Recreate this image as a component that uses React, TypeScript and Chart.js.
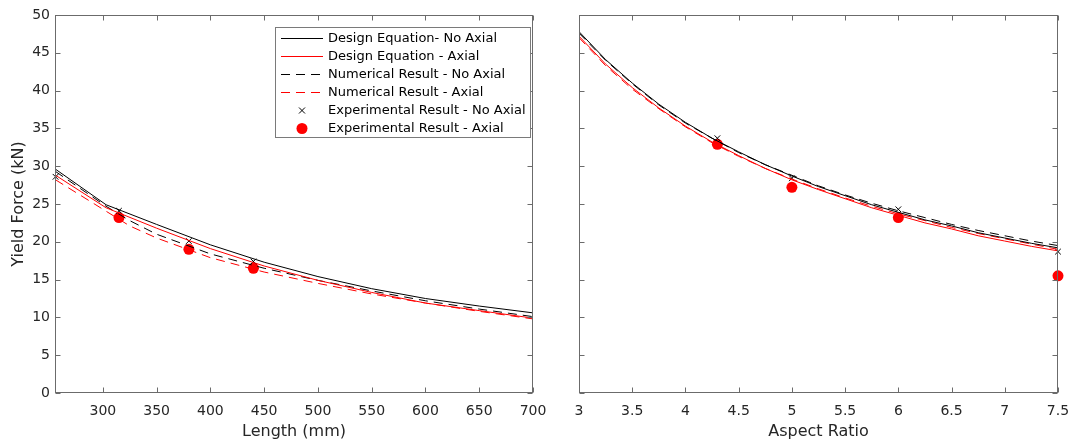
import React, { useEffect, useRef } from "react";
import { Chart, registerables } from "chart.js";
Chart.register(...registerables);

const FONT = "'DejaVu Sans', Verdana, sans-serif";
const AXIS_COLOR = "#6b6b6b";
const TEXT_COLOR = "#262626";

const seriesLabels = [
  "Design Equation- No Axial",
  "Design Equation - Axial",
  "Numerical Result - No Axial",
  "Numerical Result - Axial",
  "Experimental Result - No Axial",
  "Experimental Result - Axial",
];

// ---------- Left panel: Length (mm) ----------
const lengthTicks = [300, 350, 400, 450, 500, 550, 600, 650, 700];
const forceTicks = [0, 5, 10, 15, 20, 25, 30, 35, 40, 45, 50];

const lengthDesign = [256, 303, 350, 400, 450, 500, 550, 600, 650, 700];
const designNoAxialByLength = [29.6, 24.9, 22.3, 19.6, 17.3, 15.4, 13.8, 12.5, 11.5, 10.6];
const designAxialByLength = [28.8, 24.5, 21.8, 19.1, 16.8, 14.9, 13.3, 11.9, 10.9, 9.9];
const lengthNumNoAxial = [256, 303, 325, 350, 400, 450, 500, 550, 600, 650, 700];
const numNoAxialByLength = [29.3, 24.7, 22.8, 21.0, 18.4, 16.5, 14.9, 13.5, 12.2, 11.1, 10.1];
const lengthNumAxial = [256, 325, 350, 400, 450, 500, 550, 600, 650, 700];
const numAxialByLength = [28.2, 22.1, 20.5, 17.9, 16.0, 14.5, 13.1, 11.9, 10.8, 9.8];
const lengthExpNoAxial = [256, 315, 380, 440];
const expNoAxialByLength = [28.6, 24.1, 20.1, 17.4];
const lengthExpAxial = [315, 380, 440];
const expAxialByLength = [23.2, 19.0, 16.5];

// ---------- Right panel: Aspect Ratio ----------
const aspectTicks = [3, 3.5, 4, 4.5, 5, 5.5, 6, 6.5, 7, 7.5];
const aspectLine = [3, 3.25, 3.5, 3.75, 4, 4.25, 4.5, 4.75, 5, 5.25, 5.5, 5.75, 6, 6.25, 6.5, 6.75, 7, 7.25, 7.5];
const designNoAxialByAspect = [47.8, 44.1, 41.0, 38.2, 35.8, 33.7, 31.9, 30.2, 28.7, 27.3, 26.1, 24.9, 23.9, 22.9, 22.1, 21.2, 20.5, 19.8, 19.2];
const designAxialByAspect = [47.2, 43.5, 40.4, 37.7, 35.3, 33.2, 31.4, 29.7, 28.2, 26.9, 25.7, 24.5, 23.5, 22.5, 21.7, 20.8, 20.1, 19.4, 18.8];
const numNoAxialByAspect = [47.6, 44.0, 40.9, 38.1, 35.7, 33.7, 31.8, 30.2, 28.8, 27.4, 26.2, 25.1, 24.1, 23.2, 22.3, 21.5, 20.8, 20.1, 19.5];
const numAxialByAspect = [47.0, 43.3, 40.2, 37.6, 35.2, 33.1, 31.3, 29.7, 28.3, 27.0, 25.8, 24.7, 23.7, 22.8, 21.9, 21.1, 20.4, 19.7, 19.0];
const aspectExp = [4.3, 5, 6, 7.5];
const expNoAxialByAspect = [33.7, 28.4, 24.3, 18.7];
const expAxialByAspect = [32.9, 27.2, 23.2, 15.5];

const zip = (xs: number[], ys: number[]) => xs.map((x, i) => ({ x, y: ys[i] }));

const DASH = [9, 6];

function makeDatasets(
  d1: [number[], number[]],
  d2: [number[], number[]],
  d3: [number[], number[]],
  d4: [number[], number[]],
  e1: [number[], number[]],
  e2: [number[], number[]]
) {
  const lineBase = { pointRadius: 0, borderWidth: 1, tension: 0, fill: false };
  return [
    { ...lineBase, label: seriesLabels[0], data: zip(d1[0], d1[1]), borderColor: "#000000", borderDash: [] },
    { ...lineBase, label: seriesLabels[1], data: zip(d2[0], d2[1]), borderColor: "#ff0000", borderDash: [] },
    { ...lineBase, label: seriesLabels[2], data: zip(d3[0], d3[1]), borderColor: "#000000", borderDash: DASH },
    { ...lineBase, label: seriesLabels[3], data: zip(d4[0], d4[1]), borderColor: "#ff0000", borderDash: DASH },
    {
      label: seriesLabels[4], data: zip(e1[0], e1[1]), showLine: false, pointStyle: "crossRot",
      pointRadius: 4, borderWidth: 1, borderColor: "#000000", backgroundColor: "#000000", clip: false,
    },
    {
      label: seriesLabels[5], data: zip(e2[0], e2[1]), showLine: false, pointStyle: "circle",
      pointRadius: 5.5, borderWidth: 0, borderColor: "#ff0000", backgroundColor: "#ff0000", clip: false,
    },
  ];
}

const boxPlugin = {
  id: "mbox",
  afterDraw(chart: any, _args: any, opts: any) {
    const { ctx, chartArea: a } = chart;
    const xs = chart.scales.x;
    const ys = chart.scales.y;
    const L = Math.round(a.left) + 0.5;
    const R = Math.round(a.right) - 0.5;
    const T = Math.round(a.top) + 0.5;
    const B = Math.round(a.bottom) - 0.5;
    ctx.save();
    ctx.setLineDash([]);
    ctx.strokeStyle = AXIS_COLOR;
    ctx.lineWidth = 1;
    ctx.strokeRect(L, T, R - L, B - T);
    ctx.beginPath();
    for (const v of opts.xTicks) {
      const p = Math.round(xs.getPixelForValue(v)) + 0.5;
      ctx.moveTo(p, B); ctx.lineTo(p, B - 5);
      ctx.moveTo(p, T); ctx.lineTo(p, T + 5);
    }
    for (const v of opts.yTicks) {
      const p = Math.round(ys.getPixelForValue(v)) + 0.5;
      ctx.moveTo(L, p); ctx.lineTo(L + 5, p);
      ctx.moveTo(R, p); ctx.lineTo(R - 5, p);
    }
    ctx.stroke();

    if (opts.legend) {
      const lx = 275.5, ly = 27.5, lw = 255, lh = 110;
      ctx.fillStyle = "#ffffff";
      ctx.fillRect(lx, ly, lw, lh);
      ctx.strokeStyle = "#7a7a7a";
      ctx.strokeRect(lx, ly, lw, lh);
      ctx.font = `13px ${FONT}`;
      ctx.textBaseline = "middle";
      ctx.textAlign = "left";
      chart.data.datasets.forEach((ds: any, i: number) => {
        const cy = Math.round(38 + 18 * i) + 0.5;
        if (ds.showLine !== false) {
          ctx.strokeStyle = ds.borderColor;
          ctx.lineWidth = 1;
          ctx.setLineDash(ds.borderDash || []);
          ctx.beginPath();
          ctx.moveTo(281, cy);
          ctx.lineTo(323, cy);
          ctx.stroke();
          ctx.setLineDash([]);
        } else if (ds.pointStyle === "crossRot") {
          const r = 3;
          ctx.strokeStyle = ds.borderColor;
          ctx.beginPath();
          ctx.moveTo(302 - r, cy - r); ctx.lineTo(302 + r, cy + r);
          ctx.moveTo(302 + r, cy - r); ctx.lineTo(302 - r, cy + r);
          ctx.stroke();
        } else {
          ctx.fillStyle = ds.backgroundColor;
          ctx.beginPath();
          ctx.arc(302, cy, 5.5, 0, Math.PI * 2);
          ctx.fill();
        }
        ctx.fillStyle = "#000000";
        ctx.fillText(ds.label, 328, cy);
      });
    }
    ctx.restore();
  },
};

function xScale(min: number, max: number, ticks: number[], title: string) {
  return {
    type: "linear",
    min,
    max,
    afterBuildTicks: (s: any) => { s.ticks = ticks.map((v) => ({ value: v })); },
    afterFit: (s: any) => { s.height = 50; },
    grid: { display: false, drawTicks: false },
    border: { display: false },
    ticks: {
      color: TEXT_COLOR, font: { family: FONT, size: 14 }, padding: 10, maxRotation: 0,
      autoSkip: false,
      callback: (v: any) => String(v),
    },
    title: {
      display: true, text: title, color: TEXT_COLOR, font: { family: FONT, size: 16 },
      padding: { top: 0, bottom: 2 },
    },
  };
}

function yScale(show: boolean) {
  return {
    type: "linear",
    display: show,
    min: 0,
    max: 50,
    afterBuildTicks: (s: any) => { s.ticks = forceTicks.map((v) => ({ value: v })); },
    afterFit: (s: any) => { s.width = show ? 55 : 0; },
    grid: { display: false, drawTicks: false },
    border: { display: false },
    ticks: { color: TEXT_COLOR, font: { family: FONT, size: 14 }, padding: 5, autoSkip: false },
    title: {
      display: true, text: "Yield Force (kN)", color: TEXT_COLOR, font: { family: FONT, size: 16 },
      padding: { top: 9, bottom: 0 },
    },
  };
}

function useChart(ref: React.RefObject<HTMLCanvasElement>, cfg: () => any) {
  useEffect(() => {
    if (!ref.current) return;
    const chart = new Chart(ref.current, cfg());
    return () => chart.destroy();
  }, []);
}

const RIGHT_CANVAS_W = 1110;

export default function App() {
  const leftRef = useRef<HTMLCanvasElement>(null);
  const rightRef = useRef<HTMLCanvasElement>(null);

  useChart(leftRef, () => ({
    type: "line",
    data: {
      datasets: makeDatasets(
        [lengthDesign, designNoAxialByLength],
        [lengthDesign, designAxialByLength],
        [lengthNumNoAxial, numNoAxialByLength],
        [lengthNumAxial, numAxialByLength],
        [lengthExpNoAxial, expNoAxialByLength],
        [lengthExpAxial, expAxialByLength]
      ),
    },
    options: {
      animation: false,
      responsive: false,
      devicePixelRatio: 1,
      layout: { padding: { left: 0, right: 540, top: 15, bottom: 0 } },
      plugins: {
        legend: { display: false },
        tooltip: { enabled: false },
        mbox: { xTicks: lengthTicks, yTicks: forceTicks, legend: true },
      },
      scales: { x: xScale(255.5, 700, lengthTicks, "Length (mm)"), y: yScale(true) },
    },
    plugins: [boxPlugin],
  }));

  useChart(rightRef, () => ({
    type: "line",
    data: {
      datasets: makeDatasets(
        [aspectLine, designNoAxialByAspect],
        [aspectLine, designAxialByAspect],
        [aspectLine, numNoAxialByAspect],
        [aspectLine, numAxialByAspect],
        [aspectExp, expNoAxialByAspect],
        [aspectExp, expAxialByAspect]
      ),
    },
    options: {
      animation: false,
      responsive: false,
      devicePixelRatio: 1,
      layout: { padding: { left: 579, right: RIGHT_CANVAS_W - 1058, top: 15, bottom: 0 } },
      plugins: {
        legend: { display: false },
        tooltip: { enabled: false },
        mbox: { xTicks: aspectTicks, yTicks: forceTicks, legend: false },
      },
      scales: { x: xScale(3, 7.5, aspectTicks, "Aspect Ratio"), y: yScale(false) },
    },
    plugins: [boxPlugin],
  }));

  return (
    <div style={{ position: "fixed", left: 0, top: 0, width: 1073, height: 443, background: "#ffffff", overflow: "hidden" }}>
      <canvas ref={leftRef} width={1073} height={443}
        style={{ position: "absolute", left: 0, top: 0, width: 1073, height: 443 }} />
      <canvas ref={rightRef} width={RIGHT_CANVAS_W} height={443}
        style={{ position: "absolute", left: 0, top: 0, width: RIGHT_CANVAS_W, height: 443 }} />
    </div>
  );
}
